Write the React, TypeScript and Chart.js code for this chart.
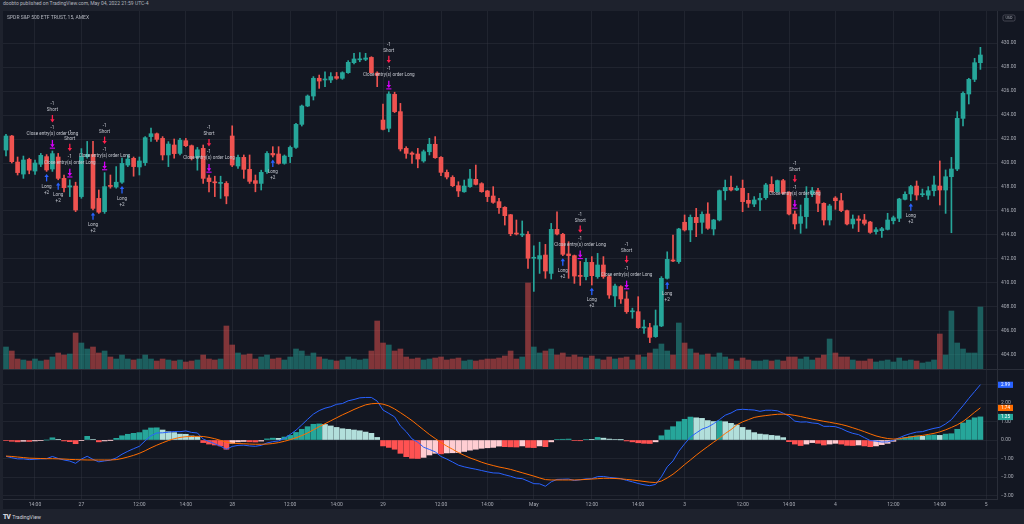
import React, { useEffect, useRef } from 'react';
import { Chart, registerables } from 'chart.js';

Chart.register(...registerables);

// ---------------- data ----------------
const opens = [
  421.08,422.25,420.08,419.08,420.3,419.33,419.9,420.53,419.5,420.5,
  418.72,418.0,418.08,417.2,420.53,420.72,417.05,415.95,418.1,418.0,
  418.4,419.83,420.39,419.67,420.03,422.2,422.44,422.05,420.67,421.5,
  420.8,421.86,421.44,420.45,421.22,418.75,418.4,418.3,418.3,422.25,
  419.75,420.47,419.47,418.53,418.3,419.28,420.8,420.75,419.97,420.53,
  421.3,423.22,424.75,425.58,427.06,426.92,426.92,427.2,427.06,427.53,
  428.36,428.6,428.64,428.8,427.5,423.58,422.89,425.72,424.28,421.22,
  420.83,420.75,420.17,420.94,421.56,420.47,419.22,418.8,418.11,417.6,
  418.03,418.64,418.28,417.67,417.25,416.78,416.31,415.69,414.1,414.0,
  414.06,412.06,412.0,412.33,410.8,414.47,414.06,412.42,412.28,410.6,
  410.53,411.72,410.53,411.5,410.53,408.92,409.7,408.67,407.6,407.61,
  406.25,406.28,405.53,406.42,410.39,411.92,411.78,415.06,414.42,415.47,
  415.06,415.75,414.5,415.25,417.69,417.97,417.75,417.89,416.89,416.58,
  416.92,417.11,418.22,417.61,418.53,417.56,415.75,414.97,415.53,417.42,
  417.69,416.64,415.25,417.08,416.86,416.03,414.92,415.33,415.25,415.08,
  414.28,414.36,414.47,415.19,415.39,416.97,417.42,418.08,417.36,417.31,
  417.69,418.08,417.75,418.86,419.5,423.72,425.75,426.97,428.36
];
const highs = [
  422.39,422.3,420.5,420.58,420.4,420.25,420.8,420.7,421.0,420.8,
  419.0,418.6,418.4,421.2,421.8,421.8,417.75,419.2,419.0,419.7,
  420.4,420.67,420.5,420.5,422.2,422.9,422.5,422.2,421.78,422.0,
  422.05,422.05,421.5,421.3,421.5,419.0,418.9,418.9,418.45,423.1,
  420.67,420.67,420.67,419.0,419.4,420.95,421.36,421.36,420.67,421.42,
  423.3,424.83,425.67,427.2,427.33,427.6,427.53,427.55,427.6,428.53,
  429.14,429.2,429.14,428.86,427.6,424.92,425.94,425.9,424.97,421.36,
  420.94,421.22,421.08,422.06,422.2,420.53,419.42,418.94,418.44,418.58,
  419.47,419.83,418.36,417.72,418.03,417.06,416.36,415.72,415.25,415.17,
  414.28,413.1,413.4,413.22,414.97,415.94,414.14,413.44,412.33,411.8,
  412.06,412.2,412.47,412.2,410.67,409.92,409.78,409.28,407.9,408.86,
  406.92,406.64,407.75,410.53,412.6,414.0,414.56,415.67,415.67,416.22,
  415.94,416.69,415.3,417.75,418.58,418.92,418.08,418.58,417.47,417.2,
  417.47,418.3,418.86,418.58,418.64,417.61,416.0,416.5,418.03,417.97,
  417.89,416.69,416.56,417.2,417.47,416.08,415.67,415.6,415.72,415.14,
  414.61,414.64,415.81,415.58,417.06,417.6,418.14,418.5,417.83,418.03,
  418.92,420.17,419.42,420.47,424.28,425.94,427.06,428.72,429.64
];
const lows = [
  420.58,420.0,419.0,418.72,419.1,419.05,419.7,419.3,419.3,418.6,
  417.6,417.2,415.95,417.06,420.4,416.1,415.8,415.8,417.9,417.9,
  418.3,419.7,418.9,419.0,419.8,421.8,421.8,420.25,419.7,420.4,
  420.67,421.36,420.25,419.4,418.3,417.6,417.2,417.05,416.6,419.7,
  419.55,418.72,418.3,417.6,417.75,419.14,420.5,419.9,419.9,420.03,
  421.22,423.08,424.7,425.25,426.22,426.36,426.7,426.97,426.97,427.47,
  428.25,428.44,428.53,427.47,426.36,422.75,422.6,424.2,421.0,420.39,
  419.97,419.6,420.06,420.67,420.39,418.94,418.67,418.03,417.2,417.56,
  417.97,418.17,417.56,416.78,416.64,415.8,414.83,413.94,414.0,413.86,
  411.22,409.3,410.8,410.39,410.33,414.0,412.28,410.39,409.97,409.8,
  410.25,409.83,410.39,410.39,408.72,408.03,408.3,407.47,407.06,406.22,
  405.8,405.03,405.47,406.36,410.33,411.78,411.64,414.33,413.44,413.86,
  414.14,414.47,414.0,415.17,416.92,417.67,417.7,415.94,416.3,416.36,
  416.03,416.97,417.56,417.56,417.42,415.67,414.5,414.14,414.56,417.2,
  415.94,414.83,414.83,416.14,415.94,414.83,414.56,414.28,414.83,414.14,
  414.06,413.8,414.42,414.92,415.11,416.92,416.86,416.92,417.2,416.97,
  417.25,416.5,415.8,414.19,419.36,423.08,424.92,426.78,427.8
];
const closes = [
  422.25,420.11,419.2,420.25,419.4,420.0,420.64,419.42,420.78,418.72,
  417.94,418.1,416.08,420.53,420.72,416.22,415.9,418.03,418.05,418.4,
  419.97,420.33,419.7,420.17,422.11,422.44,421.97,420.67,421.58,420.78,
  421.9,421.44,420.39,421.1,418.72,418.45,418.35,418.35,417.25,419.83,
  420.47,419.47,418.47,418.3,419.22,420.8,420.67,419.97,420.58,421.3,
  423.22,424.75,425.58,427.06,426.83,427.0,427.2,427.06,427.53,428.39,
  428.67,428.67,428.75,427.53,427.3,422.8,425.75,424.28,421.17,420.8,
  420.72,420.33,420.94,421.56,420.44,419.22,418.83,418.11,417.67,418.08,
  418.67,418.22,417.61,417.2,416.72,416.28,415.61,414.11,414.08,414.05,
  412.06,412.1,412.28,411.0,414.47,414.08,412.39,412.28,410.58,410.55,
  411.72,410.61,411.5,410.53,409.0,409.75,408.67,407.61,407.64,406.28,
  406.3,405.47,406.44,410.39,411.97,411.83,414.5,414.42,415.47,415.03,
  415.72,414.56,415.25,417.69,417.97,417.75,417.89,416.78,416.64,416.92,
  417.06,418.17,417.61,418.53,417.47,415.75,414.92,415.53,417.06,417.69,
  416.64,415.25,416.42,416.86,416.03,414.92,415.33,415.22,414.97,414.22,
  414.44,414.53,415.25,415.44,417.0,417.39,418.03,417.33,417.39,417.69,
  418.17,417.75,418.86,419.5,423.72,425.81,426.97,428.36,429.0
];
// volume, millions of shares
const volumes = [
  3.3,2.7,1.5,1.35,1.2,1.5,1.2,1.35,1.8,2.4,2.1,2.25,5.4,
  3.9,3.0,3.3,2.4,2.7,1.8,1.5,2.1,1.5,1.35,1.5,2.1,1.5,1.2,1.5,1.35,1.2,1.35,1.05,1.2,1.35,2.1,1.5,1.35,1.5,6.45,
  3.6,2.4,2.1,2.25,1.5,1.8,2.1,1.5,1.65,1.35,1.8,3.0,2.7,1.95,2.4,1.8,1.5,1.35,1.2,1.35,1.8,1.5,1.35,1.5,2.7,7.2,
  3.9,3.6,2.7,3.0,1.8,1.5,1.65,1.35,1.5,1.65,1.8,1.35,1.5,1.65,1.2,1.35,1.2,1.35,1.5,1.5,1.65,1.95,2.7,1.5,1.8,12.9,
  3.3,2.4,2.7,3.0,2.1,2.4,1.8,2.1,1.8,1.65,1.95,1.5,1.35,1.8,1.5,1.65,1.8,1.35,2.1,1.8,2.4,3.0,3.75,2.7,2.1,6.9,
  3.9,3.0,2.4,2.1,2.25,1.8,2.4,1.8,1.5,1.2,1.65,1.35,1.2,1.2,1.35,1.2,1.35,1.2,1.8,1.8,1.5,1.8,1.35,1.65,2.1,4.5,
  2.4,1.8,1.8,1.35,1.2,1.2,1.5,1.05,1.2,1.35,1.05,1.65,1.2,1.35,1.2,0.9,1.05,1.35,5.25,2.1,8.7,3.9,3.0,2.4,2.4,9.3
];
const macdLine = [
  -0.88,-0.96,-1.02,-1.02,-1.06,-1.04,-1.02,-1.01,-0.89,-1.0,
  -1.08,-1.14,-1.26,-1.03,-0.88,-1.05,-1.18,-1.13,-1.09,-0.97,
  -0.77,-0.61,-0.47,-0.34,-0.04,0.23,0.38,0.39,0.42,0.46,
  0.45,0.49,0.41,0.38,0.05,-0.08,-0.2,-0.34,-0.5,-0.35,
  -0.29,-0.28,-0.32,-0.34,-0.29,-0.16,-0.09,-0.05,0.09,0.3,
  0.53,0.82,1.12,1.4,1.59,1.72,1.8,1.93,1.97,2.12,
  2.19,2.28,2.3,2.3,2.1,1.62,1.44,1.25,0.76,0.45,
  0.06,-0.12,-0.39,-0.51,-0.64,-0.89,-1.03,-1.19,-1.36,-1.45,
  -1.52,-1.58,-1.65,-1.72,-1.78,-1.79,-1.88,-1.96,-2.06,-2.09,
  -2.22,-2.36,-2.37,-2.5,-2.26,-2.13,-2.12,-2.11,-2.19,-2.15,
  -2.1,-2.09,-1.98,-1.97,-2.02,-2.05,-2.09,-2.18,-2.26,-2.35,
  -2.42,-2.47,-2.4,-1.99,-1.45,-1.13,-0.61,-0.21,0.16,0.38,
  0.59,0.7,0.88,1.1,1.34,1.46,1.63,1.66,1.64,1.62,
  1.55,1.61,1.61,1.58,1.45,1.29,1.02,0.97,0.98,0.92,
  0.89,0.74,0.74,0.72,0.62,0.47,0.36,0.29,0.13,-0.03,
  -0.06,-0.11,-0.1,-0.02,0.12,0.25,0.35,0.43,0.45,0.55,
  0.63,0.69,0.87,1.1,1.48,1.85,2.25,2.62,2.99
];
const signalLine = [
  -0.87,-0.89,-0.92,-0.95,-0.98,-0.99,-1.0,-1.01,-1.01,-1.02,
  -1.03,-1.05,-1.06,-1.07,-1.08,-1.08,-1.08,-1.08,-1.08,-1.06,
  -1.0,-0.92,-0.83,-0.72,-0.58,-0.42,-0.28,-0.15,-0.03,0.07,
  0.14,0.18,0.19,0.2,0.19,0.14,0.07,-0.02,-0.12,-0.17,
  -0.19,-0.2,-0.22,-0.23,-0.23,-0.22,-0.19,-0.14,-0.07,0.02,
  0.12,0.24,0.38,0.55,0.72,0.88,1.04,1.2,1.36,1.5,
  1.65,1.78,1.9,1.96,1.98,1.94,1.84,1.68,1.48,1.27,
  1.05,0.8,0.55,0.3,0.08,-0.14,-0.33,-0.5,-0.68,-0.83,
  -0.97,-1.08,-1.2,-1.3,-1.38,-1.46,-1.52,-1.59,-1.68,-1.77,
  -1.86,-1.95,-2.05,-2.14,-2.16,-2.16,-2.16,-2.16,-2.16,-2.15,
  -2.13,-2.11,-2.09,-2.07,-2.07,-2.08,-2.1,-2.13,-2.16,-2.2,
  -2.24,-2.28,-2.3,-2.22,-2.05,-1.85,-1.6,-1.33,-1.08,-0.82,
  -0.58,-0.35,-0.12,0.1,0.35,0.56,0.82,0.98,1.1,1.22,
  1.28,1.32,1.36,1.39,1.4,1.38,1.33,1.27,1.2,1.13,
  1.07,1.01,0.96,0.9,0.84,0.76,0.66,0.56,0.45,0.33,
  0.22,0.14,0.08,0.05,0.07,0.12,0.17,0.21,0.25,0.3,
  0.36,0.44,0.55,0.68,0.82,1.0,1.24,1.5,1.74
];
const histogram = [
  -0.03,-0.07,-0.1,-0.07,-0.08,-0.05,-0.02,0.0,0.12,0.02,
  -0.05,-0.09,-0.2,-0.02,0.2,0.03,-0.1,-0.05,-0.01,0.09,
  0.23,0.31,0.36,0.4,0.54,0.65,0.66,0.54,0.45,0.4,
  0.32,0.31,0.22,0.18,-0.14,-0.22,-0.27,-0.32,-0.5,-0.18,
  -0.1,-0.08,-0.1,-0.11,-0.06,0.06,0.1,0.09,0.16,0.25,
  0.41,0.58,0.72,0.85,0.87,0.84,0.76,0.68,0.61,0.58,
  0.54,0.5,0.43,0.36,0.14,-0.32,-0.4,-0.5,-0.72,-0.9,
  -0.99,-1.0,-0.94,-0.81,-0.72,-0.75,-0.7,-0.69,-0.68,-0.62,
  -0.55,-0.5,-0.45,-0.42,-0.4,-0.33,-0.36,-0.37,-0.38,-0.32,
  -0.4,-0.41,-0.32,-0.36,-0.1,0.03,0.04,0.05,-0.03,-0.04,
  0.03,0.02,0.14,0.1,0.05,0.03,0.01,-0.05,-0.1,-0.15,
  -0.18,-0.19,-0.1,0.23,0.54,0.72,0.99,1.12,1.24,1.2,
  1.17,1.05,1.0,1.03,0.99,0.9,0.81,0.68,0.54,0.4,
  0.32,0.29,0.25,0.22,0.13,-0.09,-0.22,-0.3,-0.22,-0.14,
  -0.18,-0.27,-0.22,-0.18,-0.22,-0.29,-0.3,-0.27,-0.32,-0.36,
  -0.32,-0.25,-0.18,-0.07,0.05,0.13,0.18,0.22,0.2,0.25,
  0.27,0.25,0.32,0.34,0.58,0.92,1.08,1.2,1.25
];
const priceTicks = [404,406,408,410,412,414,416,418,420,422,424,426,428,430];
const macdTicks = [-3,-2,-1,0,1,2,3];
const timeTickBars = [5,13,23,31,39,49,57,65,75,83,91,101,109,117,127,135,143,153,161,169];
const timeTickLabels = ['14:00','27','12:00','14:00','28','12:00','14:00','29','12:00','14:00','May','12:00','14:00','3','12:00','14:00','4','12:00','14:00','5'];
const shortBars = [8,11,17,35,66,99,107,136];
const longBars = [7,9,15,20,46,96,101,114,156];

// ---------------- style ----------------
const FONT = 'Roboto, "Noto Sans", "DejaVu Sans", sans-serif';
const BG = '#131722';
const STRIP = '#1e222d';
const LINE = '#2a2e39';
const GRID = 'rgba(54,58,69,0.38)';
const TXT = '#a9acb5';
const UP = '#26a69a';
const DOWN = '#ef5350';
const UP_VOL = 'rgba(38,166,154,0.5)';
const DOWN_VOL = 'rgba(239,83,80,0.5)';
const X_MIN = -0.517;
const X_MAX = 170.86;

function downArrow(ctx: CanvasRenderingContext2D, x: number, cy: number, color: string, bar: boolean) {
  ctx.strokeStyle = color;
  ctx.fillStyle = color;
  ctx.lineWidth = 1.3;
  ctx.beginPath();
  ctx.moveTo(x, cy - 4);
  ctx.lineTo(x, cy + 1);
  ctx.stroke();
  ctx.beginPath();
  ctx.moveTo(x - 2.2, cy + 0.3);
  ctx.lineTo(x + 2.2, cy + 0.3);
  ctx.lineTo(x, cy + 3.4);
  ctx.closePath();
  ctx.fill();
  if (bar) ctx.fillRect(x - 2.6, cy + 3.6, 5.2, 1.1);
}
function upArrow(ctx: CanvasRenderingContext2D, x: number, cy: number, color: string) {
  ctx.strokeStyle = color;
  ctx.fillStyle = color;
  ctx.lineWidth = 1.3;
  ctx.beginPath();
  ctx.moveTo(x, cy - 1);
  ctx.lineTo(x, cy + 4);
  ctx.stroke();
  ctx.beginPath();
  ctx.moveTo(x - 2.2, cy - 0.3);
  ctx.lineTo(x + 2.2, cy - 0.3);
  ctx.lineTo(x, cy - 3.4);
  ctx.closePath();
  ctx.fill();
}

const markerPlugin = {
  id: 'tradeMarkers',
  afterDatasetsDraw(chart: any) {
    const { ctx, scales } = chart;
    const x = scales.x;
    const y = scales.y;
    ctx.save();
    ctx.font = `4.6px ${FONT}`;
    ctx.textAlign = 'center';
    ctx.textBaseline = 'middle';
    const text = (s: string, px: number, py: number) => {
      ctx.fillStyle = '#c3c6ce';
      ctx.fillText(s, px, py);
    };
    shortBars.forEach((i) => {
      const px = x.getPixelForValue(i);
      const base = y.getPixelForValue(highs[i]) - 7;
      downArrow(ctx, px, base, '#d500f9', true);
      text('Close entry(s) order Long', px, base - 10);
      text('-1', px, base - 16);
      downArrow(ctx, px, base - 25, '#ff1f4b', false);
      text('Short', px, base - 34);
      text('-1', px, base - 40);
    });
    longBars.forEach((i) => {
      const px = x.getPixelForValue(i);
      const py = y.getPixelForValue(lows[i]);
      upArrow(ctx, px, py + 6, '#2962ff');
      text('Long', px, py + 15);
      text('+2', px, py + 21);
    });
    ctx.restore();
  },
  afterDraw(chart: any) {
    const { ctx, chartArea } = chart;
    ctx.save();
    const bx = chartArea.right + 6;
    const by = 4;
    ctx.strokeStyle = '#50535e';
    ctx.lineWidth = 0.8;
    ctx.beginPath();
    ctx.roundRect(bx, by, 12, 6, 1.5);
    ctx.stroke();
    ctx.fillStyle = TXT;
    ctx.font = `3.8px ${FONT}`;
    ctx.textAlign = 'center';
    ctx.textBaseline = 'middle';
    ctx.fillText('USD', bx + 6, by + 3.2);
    ctx.restore();
  },
};

const lastLabelPlugin = {
  id: 'lastLabels',
  afterDraw(chart: any) {
    const { ctx, chartArea, scales } = chart;
    const y = scales.y;
    const items = [
      { v: macdLine[macdLine.length - 1], c: '#2962ff' },
      { v: signalLine[signalLine.length - 1], c: '#ff6d00' },
      { v: histogram[histogram.length - 1], c: UP },
    ];
    ctx.save();
    ctx.font = `4.6px ${FONT}`;
    ctx.textAlign = 'center';
    ctx.textBaseline = 'middle';
    items.forEach((it) => {
      const py = y.getPixelForValue(it.v);
      ctx.fillStyle = it.c;
      ctx.fillRect(chartArea.right + 1, py - 3, 15, 6.2);
      ctx.fillStyle = '#ffffff';
      ctx.fillText(it.v.toFixed(2), chartArea.right + 8.5, py + 0.3);
    });
    ctx.restore();
  },
};

export default function App() {
  const mainRef = useRef<HTMLCanvasElement>(null);
  const macdRef = useRef<HTMLCanvasElement>(null);

  useEffect(() => {
    document.body.style.margin = '0';
    document.body.style.background = STRIP;
    const idx = opens.map((_, i) => i);
    const isUp = (i: number) => closes[i] >= opens[i];
    const noPad = (s: any) => {
      s.paddingTop = 0;
      s.paddingBottom = 0;
      s.paddingLeft = 0;
      s.paddingRight = 0;
    };

    const main = new Chart(mainRef.current as HTMLCanvasElement, {
      type: 'bar',
      data: {
        datasets: [
          {
            label: 'body',
            data: idx.map((i) => ({ x: i, y: [opens[i], closes[i]] })) as any,
            yAxisID: 'y',
            backgroundColor: (c: any) => (isUp(c.dataIndex) ? UP : DOWN),
            barThickness: 4,
            minBarLength: 1,
            grouped: false,
            borderWidth: 0,
            order: 1,
          } as any,
          {
            label: 'wick',
            data: idx.map((i) => ({ x: i, y: [lows[i], highs[i]] })) as any,
            yAxisID: 'y',
            backgroundColor: (c: any) => (isUp(c.dataIndex) ? UP : DOWN),
            barThickness: 1,
            grouped: false,
            borderWidth: 0,
            order: 2,
          } as any,
          {
            label: 'volume',
            data: idx.map((i) => ({ x: i, y: volumes[i] })) as any,
            yAxisID: 'yv',
            backgroundColor: (c: any) => (isUp(c.dataIndex) ? UP_VOL : DOWN_VOL),
            barThickness: 5,
            grouped: false,
            borderWidth: 0,
            order: 3,
          } as any,
        ],
      },
      options: {
        animation: false,
        responsive: false,
        maintainAspectRatio: false,
        events: [],
        layout: { padding: 0 },
        plugins: { legend: { display: false }, tooltip: { enabled: false } },
        scales: {
          x: {
            type: 'linear',
            min: X_MIN,
            max: X_MAX,
            offset: false,
            grid: { offset: false, color: GRID, drawTicks: false },
            border: { display: false },
            ticks: { display: false },
            afterBuildTicks: (s: any) => {
              s.ticks = timeTickBars.map((v) => ({ value: v }));
            },
            afterFit: (s: any) => {
              s.height = 0;
              noPad(s);
            },
          } as any,
          y: {
            type: 'linear',
            position: 'right',
            min: 402.833,
            max: 432.667,
            grid: { color: GRID, drawTicks: false },
            border: { display: true, color: LINE },
            ticks: {
              color: TXT,
              font: { family: FONT, size: 5 },
              padding: 4,
              autoSkip: false,
              callback: (v: any) => Number(v).toFixed(2),
            },
            afterBuildTicks: (s: any) => {
              s.ticks = priceTicks.map((v) => ({ value: v }));
            },
            afterFit: (s: any) => {
              s.width = 27;
              noPad(s);
            },
          } as any,
          yv: { type: 'linear', display: false, min: 0, max: 53.7 } as any,
        },
      } as any,
      plugins: [markerPlugin as any],
    });

    const macd = new Chart(macdRef.current as HTMLCanvasElement, {
      type: 'bar',
      data: {
        datasets: [
          {
            type: 'line',
            label: 'MACD',
            data: idx.map((i) => ({ x: i, y: macdLine[i] })) as any,
            borderColor: '#2962ff',
            borderWidth: 1,
            pointRadius: 0,
            tension: 0,
            order: 1,
          } as any,
          {
            type: 'line',
            label: 'Signal',
            data: idx.map((i) => ({ x: i, y: signalLine[i] })) as any,
            borderColor: '#ff6d00',
            borderWidth: 1,
            pointRadius: 0,
            tension: 0,
            order: 0,
          } as any,
          {
            type: 'bar',
            label: 'Histogram',
            data: idx.map((i) => ({ x: i, y: histogram[i] })) as any,
            backgroundColor: (c: any) => {
              const i = c.dataIndex;
              const h = histogram[i];
              const p = i > 0 ? histogram[i - 1] : h;
              if (h >= 0) return p < h ? '#26a69a' : '#b2dfdb';
              return p < h ? '#ffcdd2' : '#ff5252';
            },
            barThickness: 5,
            grouped: false,
            borderWidth: 0,
            order: 3,
          } as any,
        ],
      },
      options: {
        animation: false,
        responsive: false,
        maintainAspectRatio: false,
        events: [],
        layout: { padding: 0 },
        plugins: { legend: { display: false }, tooltip: { enabled: false } },
        scales: {
          x: {
            type: 'linear',
            min: X_MIN,
            max: X_MAX,
            offset: false,
            grid: { offset: false, color: GRID, drawTicks: false },
            border: { display: true, color: LINE },
            ticks: {
              color: TXT,
              font: { family: FONT, size: 5 },
              padding: 2.5,
              autoSkip: false,
              maxRotation: 0,
              callback: (_v: any, index: number) => timeTickLabels[index],
            },
            afterBuildTicks: (s: any) => {
              s.ticks = timeTickBars.map((v) => ({ value: v }));
            },
            afterFit: (s: any) => {
              s.height = 10;
              noPad(s);
            },
          } as any,
          y: {
            type: 'linear',
            position: 'right',
            min: -3.189,
            max: 3.784,
            grid: { color: GRID, drawTicks: false },
            border: { display: true, color: LINE },
            ticks: {
              color: TXT,
              font: { family: FONT, size: 5 },
              padding: 4,
              autoSkip: false,
              callback: (v: any) => (Number(v) < 0 ? '\u2212' : '') + Math.abs(Number(v)).toFixed(2),
            },
            afterBuildTicks: (s: any) => {
              s.ticks = macdTicks.map((v) => ({ value: v }));
            },
            afterFit: (s: any) => {
              s.width = 27;
              noPad(s);
            },
          } as any,
        },
      } as any,
      plugins: [lastLabelPlugin as any],
    });

    return () => {
      main.destroy();
      macd.destroy();
    };
  }, []);

  const abs = (o: React.CSSProperties): React.CSSProperties => ({ position: 'absolute', ...o });

  return (
    <div style={{ position: 'relative', width: 1024, height: 524, background: STRIP, overflow: 'hidden', fontFamily: FONT }}>
      <div style={abs({ left: 3, top: 0, fontSize: 5, lineHeight: '7px', color: '#b2b5be', whiteSpace: 'nowrap' })}>
        doobto published on TradingView.com, May 04, 2022 21:59 UTC-4
      </div>
      <div style={abs({ left: 3, top: 11, width: 1021, height: 358, background: BG })}>
        <canvas ref={mainRef} width={1021} height={358} style={{ display: 'block' }} />
      </div>
      <div style={abs({ left: 7, top: 14, fontSize: 5, lineHeight: '6px', color: '#b2b5be', whiteSpace: 'nowrap' })}>
        SPDR S&amp;P 500 ETF TRUST, 15, AMEX
      </div>
      <div style={abs({ left: 3, top: 369, width: 1021, height: 1, background: LINE })} />
      <div style={abs({ left: 3, top: 370, width: 1021, height: 139, background: BG })}>
        <canvas ref={macdRef} width={1021} height={139} style={{ display: 'block' }} />
      </div>
      <div style={abs({ left: 3, top: 512, height: 10, display: 'flex', alignItems: 'center', color: '#d1d4dc', whiteSpace: 'nowrap' })}>
        <span style={{ fontSize: 6.5, fontWeight: 900, letterSpacing: -0.6, marginRight: 2 }}>TV</span>
        <span style={{ fontSize: 5.2 }}>TradingView</span>
      </div>
    </div>
  );
}
